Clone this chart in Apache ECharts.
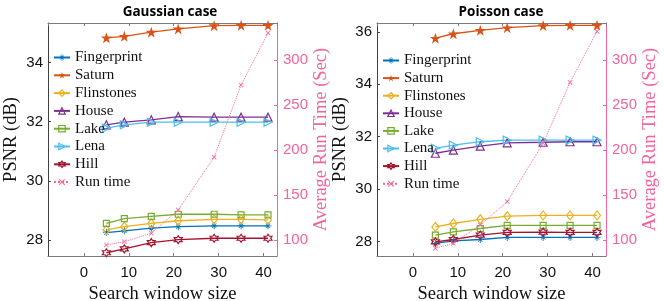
<!DOCTYPE html>
<html>
<head>
<meta charset="utf-8">
<script src="https://cdn.jsdelivr.net/npm/echarts@6/dist/echarts.min.js"></script>
<style>html,body{margin:0;padding:0;background:#fff}#c{width:664px;height:301px}</style>
</head>
<body>
<div id="c"></div>
<script>
// ---- data ----
const windowSizes = [5, 9, 15, 21, 29, 35, 41];
const names = ['Fingerprint', 'Saturn', 'Flinstones', 'House', 'Lake', 'Lena', 'Hill', 'Run time'];
const xTicks = [0, 10, 20, 30, 40];
const psnrTicks = [28, 30, 32, 34, 36];
const timeTicks = [100, 150, 200, 250, 300];

// Gaussian case (PSNR dB)
const gFingerprint = [28.25, 28.31, 28.40, 28.45, 28.48, 28.48, 28.48];
const gSaturn      = [34.83, 34.88, 35.02, 35.13, 35.24, 35.25, 35.25];
const gFlinstones  = [28.34, 28.45, 28.56, 28.65, 28.70, 28.70, 28.68];
const gHouse       = [31.89, 31.98, 32.06, 32.17, 32.15, 32.15, 32.15];
const gLake        = [28.56, 28.72, 28.80, 28.87, 28.87, 28.85, 28.85];
const gLena        = [31.78, 31.89, 31.98, 31.98, 31.98, 31.98, 31.98];
const gHill        = [27.57, 27.70, 27.91, 28.01, 28.06, 28.06, 28.06];
const gRuntime     = [94.4, 98.1, 107.4, 133.3, 191.9, 272.0, 329.6];

// Poisson case (PSNR dB)
const pFingerprint = [27.93, 28.03, 28.08, 28.16, 28.16, 28.16, 28.16];
const pSaturn      = [35.76, 35.93, 36.06, 36.16, 36.24, 36.25, 36.25];
const pFlinstones  = [28.56, 28.69, 28.85, 28.97, 29.00, 29.00, 29.00];
const pHouse       = [31.37, 31.49, 31.64, 31.77, 31.79, 31.81, 31.81];
const pLake        = [28.25, 28.37, 28.50, 28.62, 28.62, 28.62, 28.62];
const pLena        = [31.56, 31.68, 31.81, 31.87, 31.87, 31.87, 31.87];
const pHill        = [27.99, 28.08, 28.25, 28.35, 28.36, 28.35, 28.35];
const pRuntime     = [90.7, 96.3, 116.7, 142.6, 207.4, 274.8, 331.4];

// ---- styles ----
const colors = ['#0072BD', '#D95319', '#EDB120', '#7E2F8E', '#77AC30', '#4DBEEE', '#A2142F', '#F5689C'];
const PINK = '#F3649A';
const FRAME = '#7a7a7a';
const SERIF = 'Liberation Serif';
const SANS = 'Liberation Sans';

const SYM = {
  asterisk: 'path://M44,0 H56 V44 H100 V56 H56 V100 H44 V56 H0 V44 H44 Z M15,22 L22,15 L50,43 L78,15 L85,22 L57,50 L85,78 L78,85 L50,57 L22,85 L15,78 L43,50 Z',
  star: 'path://M50,0 L61.8,35.3 L99,35.3 L69,57.6 L80.2,93 L50,71 L19.8,93 L31,57.6 L1,35.3 L38.2,35.3 Z',
  hexagram: 'path://M50,0 L64.43,25 L93.3,25 L78.87,50 L93.3,75 L64.43,75 L50,100 L35.57,75 L6.7,75 L21.13,50 L6.7,25 L35.57,25 Z',
  cross: 'path://M0,12 L12,0 L50,38 L88,0 L100,12 L62,50 L100,88 L88,100 L50,62 L12,100 L0,88 L38,50 Z',
  rtri: 'path://M0,0 L100,50 L0,100 Z'
};
const markers = [
  {symbol: SYM.asterisk, size: 7, filled: true},
  {symbol: SYM.star, size: 11, filled: true},
  {symbol: 'diamond', size: [7, 9], filled: false},
  {symbol: 'triangle', size: 8, filled: false},
  {symbol: 'rect', size: 6, filled: false},
  {symbol: SYM.rtri, size: 8, filled: false},
  {symbol: SYM.hexagram, size: 8, filled: false},
  {symbol: SYM.cross, size: 5, filled: true}
];

const gSets = [gFingerprint, gSaturn, gFlinstones, gHouse, gLake, gLena, gHill, gRuntime];
const pSets = [pFingerprint, pSaturn, pFlinstones, pHouse, pLake, pLena, pHill, pRuntime];

function pairs(arr) { return windowSizes.map((x, i) => [x, arr[i]]); }

function markerStyle(k) {
  const c = colors[k];
  return markers[k].filled
    ? {color: c, borderWidth: 0}
    : {color: 'rgba(255,255,255,0)', borderColor: c, borderWidth: 1.2};
}

function makeSeries(sets, xi, yLeft, yRight) {
  return sets.map((arr, k) => {
    const m = markers[k];
    const c = colors[k];
    const isTime = k === 7;
    return {
      type: 'line',
      name: names[k],
      xAxisIndex: xi,
      yAxisIndex: isTime ? yRight : yLeft,
      data: pairs(arr),
      symbol: m.symbol,
      symbolSize: m.size,
      showAllSymbol: true,
      animation: false,
      lineStyle: {color: c, width: isTime ? 1 : 1.3, type: isTime ? 'dotted' : 'solid'},
      itemStyle: markerStyle(k),
      emphasis: {disabled: true},
      z: isTime ? 3 : 2
    };
  });
}

function legendData() {
  return names.map((n, k) => ({name: n, itemStyle: markerStyle(k)}));
}

function xAxes(gi) {
  const base = {
    type: 'value', gridIndex: gi, min: -8, max: 43,
    splitLine: {show: false},
    axisLine: {show: true, onZero: false, lineStyle: {color: FRAME, width: 1}},
    axisTick: {show: true, inside: true, length: 3, lineStyle: {color: FRAME}}
  };
  return [
    Object.assign({}, base, {
      position: 'bottom',
      axisLabel: {
        show: true, color: '#111', fontFamily: SANS, fontSize: 15, margin: 9,
        showMinLabel: false, showMaxLabel: false,
        formatter: v => (xTicks.indexOf(v) >= 0 ? String(v) : '')
      },
      name: 'Search window size', nameLocation: 'middle', nameGap: 25,
      nameTextStyle: {fontFamily: SERIF, fontSize: 18.5, color: '#111'}
    }),
    Object.assign({}, base, {position: 'top', axisLabel: {show: false}})
  ];
}

function yAxes(gi, pmin, pmax) {
  return [
    {
      type: 'value', gridIndex: gi, position: 'left', min: pmin, max: pmax,
      splitLine: {show: false},
      axisLine: {show: true, onZero: false, lineStyle: {color: '#404040', width: 1}},
      axisTick: {show: true, inside: true, length: 3, lineStyle: {color: '#404040'}},
      axisLabel: {
        color: '#111', fontFamily: SANS, fontSize: 15, margin: 5,
        showMinLabel: false, showMaxLabel: false,
        formatter: v => (psnrTicks.indexOf(v) >= 0 ? String(v) : '')
      },
      name: 'PSNR (dB)', nameLocation: 'middle', nameGap: 27,
      nameTextStyle: {fontFamily: SERIF, fontSize: 18.5, color: '#111'}
    },
    {
      type: 'value', gridIndex: gi, position: 'right', min: 82.2, max: 340.8,
      splitLine: {show: false},
      axisLine: {show: true, onZero: false, lineStyle: {color: PINK, width: 1}},
      axisTick: {show: true, inside: true, length: 3, lineStyle: {color: PINK}},
      axisLabel: {
        color: PINK, fontFamily: SANS, fontSize: 15, margin: 6,
        showMinLabel: false, showMaxLabel: false,
        formatter: v => (timeTicks.indexOf(v) >= 0 ? String(v) : '')
      },
      name: 'Average Run Time (Sec)', nameLocation: 'middle', nameGap: 33,
      nameTextStyle: {fontFamily: SERIF, fontSize: 18.5, color: PINK}
    }
  ];
}

const chart = echarts.init(document.getElementById('c'), null, {renderer: 'canvas'});
chart.setOption({
  animation: false,
  backgroundColor: '#fff',
  title: [
    {text: 'Gaussian case', left: 165, top: 0, textAlign: 'center',
     textStyle: {fontFamily: 'Open Sans', fontWeight: 'bold', fontSize: 13.5, color: '#000'}},
    {text: 'Poisson case', left: 496, top: 0, textAlign: 'center',
     textStyle: {fontFamily: 'Open Sans', fontWeight: 'bold', fontSize: 13.5, color: '#000'}}
  ],
  grid: [
    {left: 48, top: 23, width: 229, height: 233, containLabel: false, outerBoundsMode: 'none'},
    {left: 377, top: 23, width: 229, height: 233, containLabel: false, outerBoundsMode: 'none'}
  ],
  legend: [
    {data: legendData(), orient: 'vertical', left: 48, top: 45, itemWidth: 16, itemHeight: 8, itemGap: 2.8,
     textStyle: {fontFamily: SERIF, fontSize: 15, color: '#111'}, selectedMode: false},
    {data: legendData(), orient: 'vertical', left: 377, top: 48, itemWidth: 16, itemHeight: 8, itemGap: 2.6,
     textStyle: {fontFamily: SERIF, fontSize: 15, color: '#111'}, selectedMode: false}
  ],
  xAxis: [].concat(xAxes(0), xAxes(1)),
  yAxis: [].concat(yAxes(0, 27.46, 35.33), yAxes(1, 27.45, 36.34)),
  series: [].concat(makeSeries(gSets, 0, 0, 1), makeSeries(pSets, 2, 2, 3))
});
</script>
</body>
</html>
